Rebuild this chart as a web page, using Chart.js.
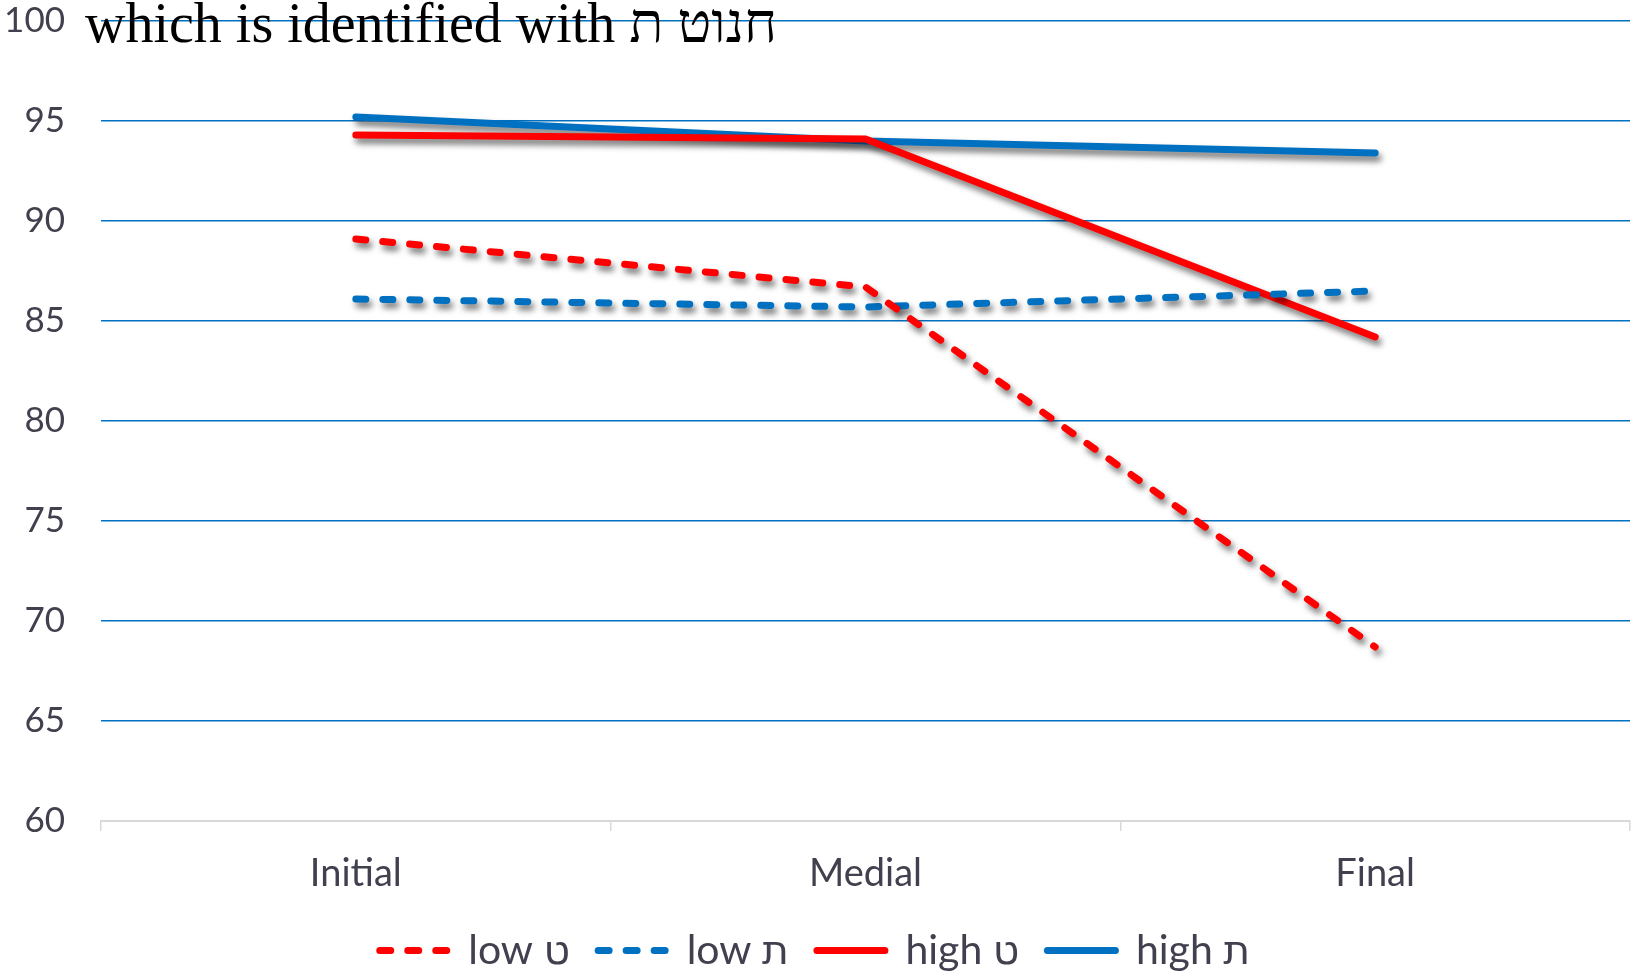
<!DOCTYPE html>
<html lang="en">
<head>
    <meta charset="UTF-8">
    <title>Identification by position</title>
    <script src="https://cdn.jsdelivr.net/npm/chart.js"></script>
    <style>
        html, body {
            margin: 0;
            padding: 0;
            background: white;
        }
        .wrap {
            position: relative;
            width: 1632px;
            height: 972px;
        }
        .titulo {
            position: absolute;
            left: 85px;
            top: -5px;
            font-family: "Liberation Serif", "DejaVu Serif", serif;
            font-size: 56px;
            line-height: 56px;
            color: #000;
            white-space: nowrap;
        }
    </style>
</head>
<body>
    <div class="wrap">
        <canvas id="grafico" width="1632" height="972"></canvas>
        <div class="titulo">which is identified with חנוט ת</div>
    </div>

    <script>
        const positions = ['Initial', 'Medial', 'Final'];
        const seriesNames = ['low ט', 'low ת', 'high ט', 'high ת'];
        const lowTet = [89.1, 86.7, 68.7];
        const lowTav = [86.1, 85.7, 86.5];
        const highTet = [94.3, 94.1, 84.2];
        const highTav = [95.2, 94.0, 93.4];
        const yTicks = [60, 65, 70, 75, 80, 85, 90, 95, 100];

        const rojo = '#ff0000';
        const azul = '#0070c0';
        const gris = '#40404e';
        const fuente = 'Lato, "Noto Sans", "DejaVu Sans", sans-serif';

        function serie(nombre, datos, color, discontinua) {
            return {
                label: nombre,
                data: datos,
                borderColor: color,
                backgroundColor: color,
                borderWidth: 7,
                borderCapStyle: 'round',
                borderJoinStyle: 'round',
                borderDash: discontinua ? [10, 17] : [],
                pointRadius: 0,
                pointHoverRadius: 0,
                tension: 0,
                fill: false
            };
        }

        // sombra gris bajo las lineas + alto fijo de la leyenda
        const sombra = {
            id: 'sombra',
            beforeInit(chart) {
                const leyenda = chart.legend;
                if (leyenda) {
                    const fitOriginal = leyenda.fit;
                    leyenda.fit = function () {
                        fitOriginal.call(this);
                        this.height = 70;
                    };
                }
            },
            beforeDatasetsDraw(chart) {
                const ctx = chart.ctx;
                ctx.save();
                ctx.shadowColor = 'rgba(0, 0, 0, 0.55)';
                ctx.shadowBlur = 6;
                ctx.shadowOffsetX = 3;
                ctx.shadowOffsetY = 5;
            },
            afterDatasetsDraw(chart) {
                chart.ctx.restore();
            }
        };

        new Chart(document.getElementById('grafico'), {
            type: 'line',
            data: {
                labels: positions,
                datasets: [
                    serie(seriesNames[0], lowTet, rojo, true),
                    serie(seriesNames[1], lowTav, azul, true),
                    serie(seriesNames[2], highTet, rojo, false),
                    serie(seriesNames[3], highTav, azul, false)
                ]
            },
            options: {
                responsive: false,
                animation: false,
                layout: {
                    padding: { top: 21, right: 2, left: 0, bottom: 0 }
                },
                plugins: {
                    legend: {
                        position: 'bottom',
                        labels: {
                            usePointStyle: true,
                            pointStyle: 'line',
                            pointStyleWidth: 68,
                            boxHeight: 34,
                            color: gris,
                            padding: 28,
                            font: { family: fuente, size: 41 },
                            generateLabels(chart) {
                                const items = Chart.defaults.plugins.legend.labels.generateLabels(chart);
                                items.forEach(item => {
                                    const ds = chart.data.datasets[item.datasetIndex];
                                    item.lineDash = ds.borderDash.length ? [11, 17] : [];
                                    item.lineDashOffset = 0;
                                    item.lineCap = 'round';
                                    item.lineWidth = 7;
                                    item.strokeStyle = ds.borderColor;
                                });
                                return items;
                            }
                        }
                    },
                    tooltip: { enabled: false }
                },
                scales: {
                    x: {
                        offset: true,
                        afterFit(scale) {
                            scale.height = 81;
                        },
                        grid: {
                            offset: true,
                            drawOnChartArea: false,
                            drawTicks: true,
                            tickLength: 10,
                            color: '#d9d9d9',
                            lineWidth: 1.5
                        },
                        border: { display: true, color: '#d9d9d9', width: 2 },
                        ticks: {
                            color: gris,
                            padding: 20,
                            font: { family: fuente, size: 38 }
                        }
                    },
                    y: {
                        min: 60,
                        max: 100,
                        afterBuildTicks(scale) {
                            scale.ticks = yTicks.map(v => ({ value: v }));
                        },
                        afterFit(scale) {
                            scale.width = 101;
                            scale.paddingTop = 0;
                            scale.paddingBottom = 0;
                        },
                        grid: {
                            drawTicks: false,
                            color: ctx => ctx.tick && ctx.tick.value === 60 ? 'rgba(0,0,0,0)' : azul,
                            lineWidth: 1.5
                        },
                        border: { display: false },
                        ticks: {
                            color: gris,
                            padding: 36,
                            font: { family: fuente, size: 35 }
                        }
                    }
                }
            },
            plugins: [sombra]
        });
    </script>
</body>
</html>
